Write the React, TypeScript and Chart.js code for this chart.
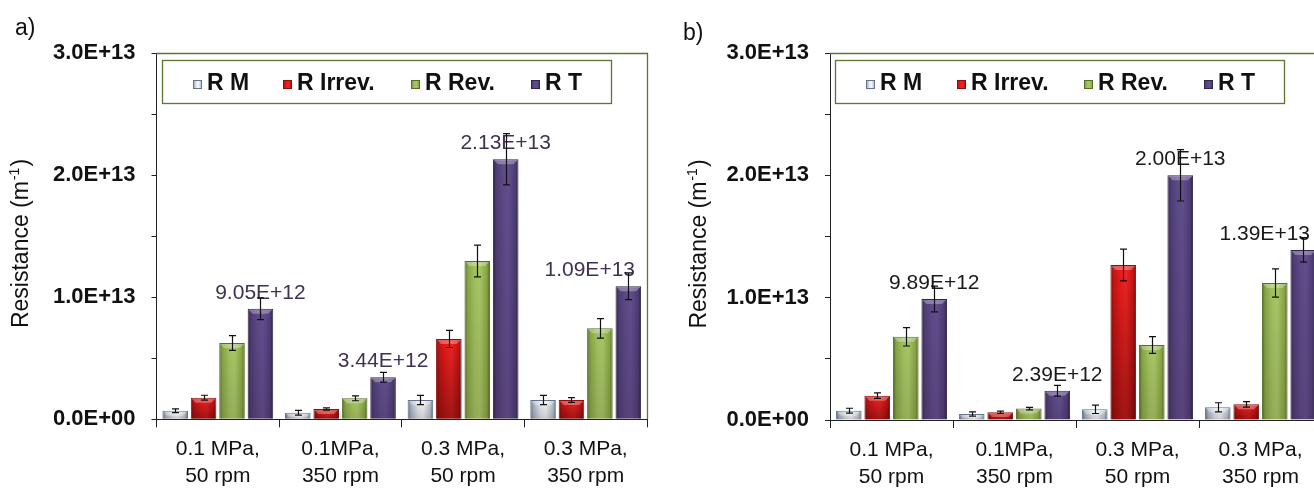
import React, { useEffect, useRef } from 'react';
import { Chart, registerables } from 'chart.js';

Chart.register(...registerables);

const FONT = "'Liberation Sans', Arial, Helvetica, sans-serif";

// ---------- data ----------
const categories: string[][] = [
  ['0.1 MPa,', '50 rpm'],
  ['0.1MPa,', '350 rpm'],
  ['0.3 MPa,', '50 rpm'],
  ['0.3 MPa,', '350 rpm'],
];
const seriesNames = ['R M', 'R Irrev.', 'R Rev.', 'R T'];

// panel a)
const aRM = [7.0e11, 5.4e11, 1.58e12, 1.58e12];
const aRMErr = [1.6e11, 1.9e11, 3.8e11, 3.8e11];
const aRIrrev = [1.77e12, 8.4e11, 6.58e12, 1.58e12];
const aRIrrevErr = [2.0e11, 1.0e11, 7.0e11, 1.9e11];
const aRRev = [6.25e12, 1.72e12, 1.296e13, 7.45e12];
const aRRevErr = [6.0e11, 2.0e11, 1.3e12, 8.0e11];
const aRT = [9.05e12, 3.44e12, 2.13e13, 1.09e13];
const aRTErr = [8.9e11, 4.0e11, 2.1e12, 1.1e12];

// panel b)
const bRM = [7.6e11, 4.9e11, 8.7e11, 1.04e12];
const bRMErr = [2.0e11, 1.8e11, 3.4e11, 3.7e11];
const bRIrrev = [1.99e12, 6.3e11, 1.267e13, 1.28e12];
const bRIrrevErr = [2.3e11, 1.0e11, 1.3e12, 2.3e11];
const bRRev = [6.8e12, 9.3e11, 6.13e12, 1.12e13];
const bRRevErr = [7.5e11, 1.1e11, 6.8e11, 1.16e12];
const bRT = [9.89e12, 2.39e12, 2.0e13, 1.39e13];
const bRTErr = [1.05e12, 4.4e11, 2.1e12, 1.0e12];

const yMin = 0;
const yMax = 3e13;
const yStep = 5e12;

// ---------- styles ----------
const stopPos = [0, 0.12, 0.4, 0.6, 0.88, 1];
const seriesStyles = [
  { stops: ['#5e6c80', '#a9b5c4', '#e6ebf1', '#f6f8fa', '#bcc6d2', '#5e6c80'], border: '#66728a', shade: 0.18 },
  { stops: ['#7a0c0c', '#c81414', '#ec1c1c', '#f22424', '#c81414', '#7a0c0c'], border: '#8a1010', shade: 0.38 },
  { stops: ['#4f6722', '#86a544', '#a2c161', '#a9c766', '#86a544', '#4f6722'], border: '#566f26', shade: 0.12 },
  { stops: ['#2d2245', '#4d3c74', '#5d4a88', '#624e8e', '#4d3c74', '#2d2245'], border: '#30254c', shade: 0.12 },
];
const frameColor = '#5e7530';

function fmtValue(v: number) {
  const exp = Math.floor(Math.log10(v));
  const m = v / Math.pow(10, exp);
  return `${m.toFixed(2)}E+${exp}`;
}
function fmtTick(v: number) {
  if (v === 0) return '0.0E+00';
  const exp = Math.floor(Math.log10(v) + 1e-9);
  const m = v / Math.pow(10, exp);
  return `${m.toFixed(1)}E+${String(exp).padStart(2, '0')}`;
}

function makeGrad(ctx: CanvasRenderingContext2D, x0: number, x1: number, stops: string[]) {
  const g = ctx.createLinearGradient(x0, 0, x1, 0);
  stops.forEach((c, i) => g.addColorStop(stopPos[i], c));
  return g;
}

const barStylePlugin = {
  id: 'barStyle',
  beforeDatasetsDraw(chart: any) {
    const ctx = chart.ctx;
    chart.data.datasets.forEach((ds: any, di: number) => {
      const meta = chart.getDatasetMeta(di);
      const st = seriesStyles[di];
      meta.data.forEach((el: any) => {
        const { x, width } = el.getProps(['x', 'width'], true);
        const opts: any = { ...el.options, backgroundColor: makeGrad(ctx, x - width / 2, x + width / 2, st.stops) };
        delete opts.$shared;
        el.options = opts;
      });
    });
  },
  afterDatasetsDraw(chart: any) {
    const ctx = chart.ctx;
    ctx.save();
    chart.data.datasets.forEach((ds: any, di: number) => {
      const meta = chart.getDatasetMeta(di);
      const st = seriesStyles[di];
      meta.data.forEach((el: any) => {
        const { x, y, base, width } = el.getProps(['x', 'y', 'base', 'width'], true);
        const left = x - width / 2;
        const right = x + width / 2;
        const top = Math.min(y, base);
        const bottom = Math.max(y, base);
        const h = bottom - top;
        if (h < 2) return;
        const vg = ctx.createLinearGradient(0, top, 0, bottom);
        vg.addColorStop(0, 'rgba(0,0,0,0)');
        vg.addColorStop(1, `rgba(30,0,0,${st.shade})`);
        ctx.fillStyle = vg;
        ctx.fillRect(left + 1, top + 1, width - 2, h - 1);
        const b = Math.min(4, h / 2);
        ctx.fillStyle = 'rgba(255,255,255,0.3)';
        ctx.beginPath();
        ctx.moveTo(left + 1, top + 1);
        ctx.lineTo(right - 1, top + 1);
        ctx.lineTo(right - 1 - b, top + 1 + b);
        ctx.lineTo(left + 1 + b, top + 1 + b);
        ctx.closePath();
        ctx.fill();
      });
    });
    ctx.restore();
  },
};

const valueLabelPlugin = {
  id: 'valueLabels',
  afterDatasetsDraw(chart: any, _args: any, opts: any) {
    const { ctx, chartArea: ca } = chart;
    ctx.save();
    ctx.font = `21px ${FONT}`;
    ctx.fillStyle = opts.color;
    ctx.textAlign = 'center';
    ctx.textBaseline = 'middle';
    chart.data.datasets.forEach((ds: any, di: number) => {
      if (!ds.showValues) return;
      const meta = chart.getDatasetMeta(di);
      meta.data.forEach((el: any, i: number) => {
        const text = fmtValue(ds.data[i]);
        const w = ctx.measureText(text).width;
        let x = el.x;
        if (x + w / 2 > ca.right - 12) x = ca.right - 12 - w / 2;
        ctx.fillText(text, x, el.y - 16);
      });
    });
    ctx.restore();
  },
};

const errorBarPlugin = {
  id: 'errorBars',
  afterDatasetsDraw(chart: any) {
    const ctx = chart.ctx;
    const ys = chart.scales.y;
    ctx.save();
    ctx.strokeStyle = '#111';
    ctx.lineWidth = 1.2;
    chart.data.datasets.forEach((ds: any, di: number) => {
      const errs = ds.errors;
      if (!errs) return;
      const meta = chart.getDatasetMeta(di);
      meta.data.forEach((el: any, i: number) => {
        const v = ds.data[i];
        const e = errs[i];
        const x = Math.round(el.x) + 0.5;
        const yt = ys.getPixelForValue(v + e);
        const yb = ys.getPixelForValue(Math.max(0, v - e));
        ctx.beginPath();
        ctx.moveTo(x, yt);
        ctx.lineTo(x, yb);
        ctx.moveTo(x - 3.5, yt);
        ctx.lineTo(x + 3.5, yt);
        ctx.moveTo(x - 3.5, yb);
        ctx.lineTo(x + 3.5, yb);
        ctx.stroke();
      });
    });
    ctx.restore();
  },
};

const legendOffsets = [36, 126.5, 254, 374];

const decorPlugin = {
  id: 'decor',
  afterDraw(chart: any, _args: any, opts: any) {
    const { ctx, chartArea: ca } = chart;
    ctx.save();
    // top / right frame of plot area
    ctx.strokeStyle = frameColor;
    ctx.lineWidth = 1.3;
    ctx.beginPath();
    ctx.moveTo(ca.left, Math.round(ca.top) + 0.5);
    ctx.lineTo(Math.round(ca.right) + 0.5, Math.round(ca.top) + 0.5);
    ctx.lineTo(Math.round(ca.right) + 0.5, ca.bottom);
    ctx.stroke();

    // legend box
    const bx = Math.round(ca.left + 5);
    const by = 60;
    const bw = 449;
    const bh = 43;
    ctx.fillStyle = '#ffffff';
    ctx.fillRect(bx, by, bw, bh);
    ctx.strokeRect(bx + 0.5, by + 0.5, bw, bh);
    ctx.font = `bold 23px ${FONT}`;
    ctx.textBaseline = 'middle';
    ctx.textAlign = 'left';
    chart.data.datasets.forEach((ds: any, i: number) => {
      const mx = Math.round(ca.left + legendOffsets[i]);
      const my = 80;
      const st = seriesStyles[i];
      ctx.fillStyle = makeGrad(ctx, mx, mx + 9, st.stops);
      ctx.fillRect(mx, my, 9, 9);
      ctx.strokeStyle = st.border;
      ctx.lineWidth = 1;
      ctx.strokeRect(mx + 0.5, my + 0.5, 8, 8);
      ctx.fillStyle = '#111';
      ctx.fillText(ds.label, mx + 14, 84);
    });

    // panel letter
    ctx.font = `23px ${FONT}`;
    ctx.textBaseline = 'alphabetic';
    ctx.fillStyle = '#111';
    ctx.fillText(opts.letter, opts.letterX, opts.letterY);

    // y axis title with superscript
    ctx.translate(opts.titleX, opts.titleY);
    ctx.rotate(-Math.PI / 2);
    const main = 'Resistance (m';
    const sup = '-1';
    const close = ')';
    ctx.font = `23px ${FONT}`;
    const w1 = ctx.measureText(main).width;
    const w3 = ctx.measureText(close).width;
    ctx.font = `14px ${FONT}`;
    const w2 = ctx.measureText(sup).width;
    const total = w1 + w2 + w3 + 2;
    let x0 = -total / 2;
    ctx.font = `23px ${FONT}`;
    ctx.fillText(main, x0, 8);
    x0 += w1 + 1;
    ctx.font = `14px ${FONT}`;
    ctx.fillText(sup, x0, -1);
    x0 += w2 + 1;
    ctx.font = `23px ${FONT}`;
    ctx.fillText(close, x0, 8);
    ctx.restore();
  },
};

interface PanelSpec {
  values: number[][];
  errors: number[][];
  yWidth: number;
  padRight: number;
  xHeight: number;
  labelColor: string;
  letter: string;
  letterX: number;
  letterY: number;
  titleX: number;
  titleY: number;
}

function makeChart(canvas: HTMLCanvasElement, p: PanelSpec) {
  return new Chart(canvas, {
    type: 'bar',
    data: {
      labels: categories,
      datasets: seriesNames.map((name, i) => ({
        label: name,
        data: p.values[i],
        errors: p.errors[i],
        showValues: i === 3,
        backgroundColor: seriesStyles[i].stops[2],
        borderColor: seriesStyles[i].border,
        borderWidth: 1,
        categoryPercentage: 0.927,
        barPercentage: 0.9,
      })) as any,
    },
    options: {
      responsive: false,
      animation: false,
      devicePixelRatio: 1,
      events: [],
      layout: { padding: { left: 0, top: 53, right: p.padRight, bottom: 0 } },
      plugins: {
        legend: { display: false },
        tooltip: { enabled: false },
        title: { display: false },
        valueLabels: { color: p.labelColor },
        decor: {
          letter: p.letter,
          letterX: p.letterX,
          letterY: p.letterY,
          titleX: p.titleX,
          titleY: p.titleY,
        },
      } as any,
      scales: {
        x: {
          grid: { display: true, drawOnChartArea: false, drawTicks: true, tickLength: 8, color: '#222', offset: true },
          border: { display: true, color: '#222', width: 1 },
          ticks: {
            color: '#111',
            font: { family: FONT, size: 21, lineHeight: 1.27 },
            padding: 9,
            maxRotation: 0,
            minRotation: 0,
            autoSkip: false,
          },
          afterFit: (s: any) => {
            s.height = p.xHeight;
          },
        },
        y: {
          min: yMin,
          max: yMax,
          grid: { display: true, drawOnChartArea: false, drawTicks: true, tickLength: 5, color: '#222' },
          border: { display: true, color: '#222', width: 1 },
          ticks: {
            stepSize: yStep,
            autoSkip: false,
            color: '#111',
            font: { family: FONT, size: 22, weight: 'bold' },
            padding: 16,
            callback: (v: any) => {
              const n = Math.round(Number(v) / 1e12);
              if (n % 10 !== 0) return '';
              return fmtTick(n * 1e12);
            },
          },
          afterFit: (s: any) => {
            s.width = p.yWidth;
          },
        },
      } as any,
    },
    plugins: [barStylePlugin, valueLabelPlugin, errorBarPlugin, decorPlugin],
  } as any);
}

export default function App() {
  const refA = useRef<HTMLCanvasElement>(null);
  const refB = useRef<HTMLCanvasElement>(null);

  useEffect(() => {
    const a = makeChart(refA.current!, {
      values: [aRM, aRIrrev, aRRev, aRT],
      errors: [aRMErr, aRIrrevErr, aRRevErr, aRTErr],
      yWidth: 156.5,
      padRight: 13,
      xHeight: 69.7,
      labelColor: '#403152',
      letter: 'a)',
      letterX: 15,
      letterY: 35,
      titleX: 20,
      titleY: 243.5,
    });
    const b = makeChart(refB.current!, {
      values: [bRM, bRIrrev, bRRev, bRT],
      errors: [bRMErr, bRIrrevErr, bRRevErr, bRTErr],
      yWidth: 170,
      padRight: 18,
      xHeight: 69,
      labelColor: '#1a1a1a',
      letter: 'b)',
      letterX: 23,
      letterY: 40,
      titleX: 38,
      titleY: 244,
    });
    return () => {
      a.destroy();
      b.destroy();
    };
  }, []);

  return (
    <div
      style={{
        position: 'absolute',
        left: 0,
        top: 0,
        width: 1314,
        height: 489,
        overflow: 'hidden',
        background: '#ffffff',
      }}
    >
      <canvas ref={refA} width={660} height={489} style={{ position: 'absolute', left: 0, top: 0 }} />
      <canvas ref={refB} width={680} height={489} style={{ position: 'absolute', left: 660, top: 0 }} />
    </div>
  );
}
